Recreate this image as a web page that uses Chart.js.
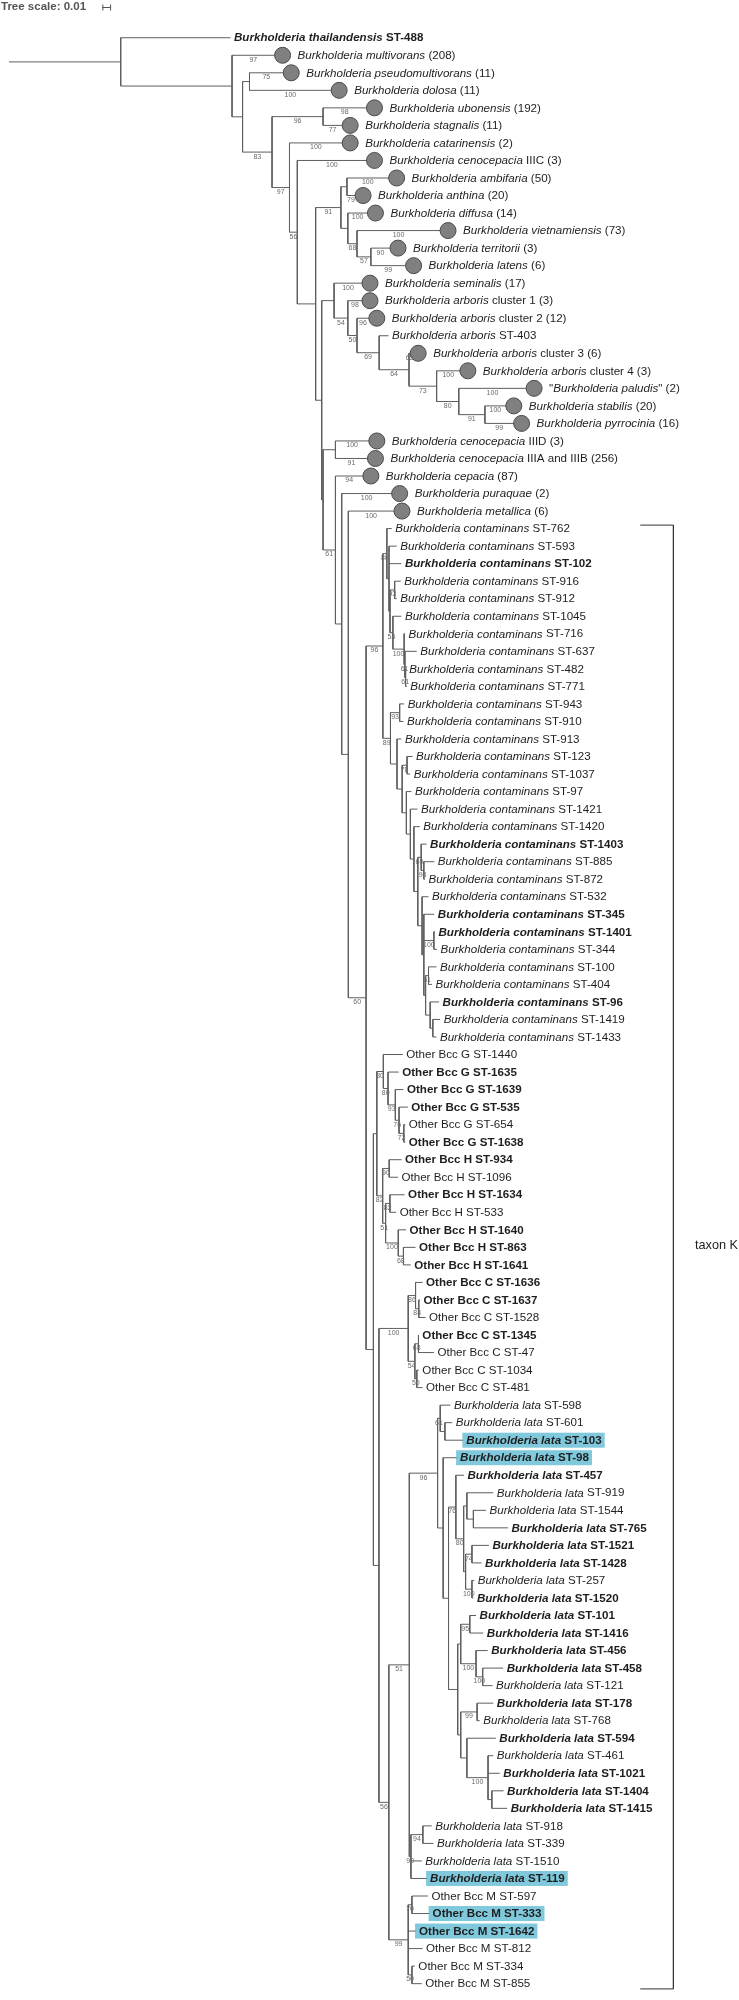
<!DOCTYPE html>
<html>
<head>
<meta charset="utf-8">
<script src="https://cdn.jsdelivr.net/npm/chart.js@4.4.1/dist/chart.umd.min.js"></script>
<style>
  html, body { margin: 0; padding: 0; background: #fff; }
  #wrap { width: 739px; height: 2000px; }
</style>
</head>
<body>
<div id="wrap"><canvas id="tree" width="739" height="2000"></canvas></div>
<script>
// leaf labels, top to bottom
const speciesNames = [
  'Burkholderia thailandensis ST-488', 'Burkholderia multivorans (208)', 'Burkholderia pseudomultivorans (11)',
  'Burkholderia dolosa (11)', 'Burkholderia ubonensis (192)', 'Burkholderia stagnalis (11)',
  'Burkholderia catarinensis (2)', 'Burkholderia cenocepacia IIIC (3)', 'Burkholderia ambifaria (50)',
  'Burkholderia anthina (20)', 'Burkholderia diffusa (14)', 'Burkholderia vietnamiensis (73)',
  'Burkholderia territorii (3)', 'Burkholderia latens (6)', 'Burkholderia seminalis (17)',
  'Burkholderia arboris cluster 1 (3)', 'Burkholderia arboris cluster 2 (12)', 'Burkholderia arboris ST-403',
  'Burkholderia arboris cluster 3 (6)', 'Burkholderia arboris cluster 4 (3)', '"Burkholderia paludis" (2)',
  'Burkholderia stabilis (20)', 'Burkholderia pyrrocinia (16)', 'Burkholderia cenocepacia IIID (3)',
  'Burkholderia cenocepacia IIIA and IIIB (256)', 'Burkholderia cepacia (87)', 'Burkholderia puraquae (2)',
  'Burkholderia metallica (6)'
];
const contaminansST = ['762', '593', '102', '916', '912', '1045', '716', '637', '482', '771', '943', '910', '913',
  '123', '1037', '97', '1421', '1420', '1403', '885', '872', '532', '345', '1401', '344', '100', '404', '96', '1419', '1433'];
const bccG_ST = ['1440', '1635', '1639', '535', '654', '1638'];
const bccH_ST = ['934', '1096', '1634', '533', '1640', '863', '1641'];
const bccC_ST = ['1636', '1637', '1528', '1345', '47', '1034', '481'];
const lataST = ['598', '601', '103', '98', '457', '919', '1544', '765', '1521', '1428', '257', '1520', '101', '1416',
  '456', '458', '121', '178', '768', '594', '461', '1021', '1404', '1415', '918', '339', '1510', '119'];
const bccM_ST = ['597', '333', '1642', '812', '334', '855'];

const leafNames = [
  ...speciesNames,
  ...contaminansST.map(s => 'Burkholderia contaminans ST-' + s),
  ...bccG_ST.map(s => 'Other Bcc G ST-' + s),
  ...bccH_ST.map(s => 'Other Bcc H ST-' + s),
  ...bccC_ST.map(s => 'Other Bcc C ST-' + s),
  ...lataST.map(s => 'Burkholderia lata ST-' + s),
  ...bccM_ST.map(s => 'Other Bcc M ST-' + s)
];

// distance from the left of the tree to each tip
const leafTip = [
  227, 280.4, 289.3, 338.4, 374.6, 349.7, 349.7, 374.6, 397.3, 362.9,
  375.6, 450, 398.7, 414.7, 370, 370, 377, 389, 419.4, 470.3,
  538.2, 517.4, 525.4, 377, 375.6, 370.9, 400.4, 402.8,
  392.3, 397.4, 402.2, 401.5, 397.4, 402.2, 406, 418, 406.7, 407.7,
  405, 404.3, 402.2, 413.6, 411.2, 412.5, 418.7, 421.1, 428, 435.9,
  426.3, 430, 435.9, 436.6, 438.7, 438.1, 433.6, 440.8, 441.9, 438.1,
  403.6, 399.4, 404.3, 408.8, 406.2, 406.2,
  402.4, 398.7, 405.5, 396.8, 407, 416.7, 411.8,
  423.9, 421.2, 426.9, 420.1, 435.5, 420.1, 423.9,
  452.4, 454.3, 465.2, 458.8, 466.3, 496.4, 488.9, 511.4, 491.9, 484.3,
  476.8, 476, 478.7, 486.2, 490.7, 506.5, 495.6, 496.4, 482.5, 499,
  496.4, 503.1, 506.9, 510.6, 433.3, 435.1, 423.1, 428,
  429.5, 430.6, 416.7, 423.9, 416, 423.1
];

// internal node each leaf hangs from
const leafParent = [
  0, 1, 3, 3, 5, 5, 6, 7, 10, 10,
  11, 12, 13, 13, 15, 16, 17, 18, 19, 20,
  21, 22, 22, 24, 24, 25, 26, 27,
  30, 31, 31, 33, 33, 34, 35, 36, 37, 37,
  39, 39, 40, 42, 42, 43, 44, 45, 47, 48,
  48, 49, 50, 51, 51, 53, 53, 54, 55, 55,
  58, 59, 60, 61, 62, 62,
  64, 64, 66, 66, 67, 68, 68,
  71, 72, 72, 74, 74, 75, 75,
  79, 80, 80, 81, 83, 85, 86, 86, 88, 88,
  89, 89, 92, 92, 93, 94, 94, 96, 96, 97,
  98, 98, 99, 99, 101, 101, 100, 100,
  103, 103, 102, 102, 104, 104
];

const leafSupport = [
  null, 97, 75, 100, 98, 77, 100, 100, 100, 79,
  100, 100, 90, 99, 100, 98, 96, null, 65, 100,
  100, 100, 99, 100, 91, 94, 100, 100
];

const collapsedLeaves = [1, 2, 3, 4, 5, 6, 7, 8, 9, 10, 11, 12, 13, 14, 15, 16, 18, 19, 20, 21, 22, 23, 24, 25, 26, 27];
const boldLeaves = [0, 30, 46, 50, 51, 55, 59, 60, 61, 63, 64, 66, 68, 69, 70, 71, 72, 74, 80, 81, 82, 85, 86, 87,
  89, 90, 91, 92, 93, 95, 97, 99, 100, 101, 105, 107, 108];
const highlightedLeaves = [80, 81, 105, 107, 108];

// internal nodes: depth, parent node, bootstrap
const nodeDepth = [
  114.5, 228.6, 239.4, 246.5, 269.6, 321.9, 287.5, 295.5, 314.3, 340.2,
  346.4, 347.3, 356.7, 370.9, 320.5, 333.2, 347.3, 356.7, 379.4, 410,
  438.3, 461, 487.8, 321.9, 334.6, 334.6, 341, 347.8, 366, 383.2,
  387.3, 389.5, 390.5, 395.3, 393.5, 405, 405.8, 406.5, 391, 400.4,
  397.7, 403, 408, 407.3, 411.4, 415, 419, 422.5, 425.2, 423.4,
  425.2, 435.5, 427, 430, 431.7, 434.4, 373.5, 377, 383.7, 388.5,
  396, 399.8, 404.7, 383, 389.7, 386, 390.4, 399, 404.3, 379.2,
  409.2, 416.7, 420, 416, 419.7, 418, 389.3, 410.3, 439.3, 442,
  446.8, 445, 450.5, 458, 466, 469.3, 476, 468, 474.5, 474.5,
  459.9, 463, 472.3, 478.7, 485.5, 463, 479.8, 469.3, 491, 494.9,
  412, 424.2, 409.2, 413, 413
];
const nodeParent = [
  -1, 0, 1, 2, 2, 4, 4, 6, 7, 8,
  9, 9, 11, 12, 8, 14, 15, 16, 17, 18,
  19, 20, 21, 14, 23, 23, 25, 26, 27, 28,
  29, 30, 31, 32, 32, 34, 35, 36, 29, 38,
  38, 40, 41, 41, 43, 44, 45, 46, 47, 46,
  49, 50, 50, 52, 52, 54, 28, 56, 57, 58,
  59, 60, 61, 57, 63, 63, 65, 65, 67, 56,
  69, 70, 71, 70, 73, 73, 69, 76, 77, 78,
  79, 78, 81, 82, 83, 84, 85, 84, 87, 87,
  82, 90, 91, 91, 93, 90, 95, 95, 97, 98,
  77, 100, 76, 102, 102
];
const nodeSupport = [
  null, null, null, null, 83, 96, 97, 56, null, 91,
  null, null, 68, 57, null, null, 54, 50, 69, 64,
  73, 80, 91, null, null, 61, null, null, 60, 96,
  80, null, null, 93, 54, 100, 61, 61, 89, 93,
  null, null, 78, null, null, null, null, 60, 93, null,
  null, 100, null, 61, null, null, null, null, 80, 80,
  93, 76, 72, 82, 90, 51, 82, 100, 68, null,
  100, 86, 84, 54, 68, 50, 56, 51, 96, 61,
  null, null, null, 76, 80, null, null, null, 74, 100,
  null, null, 95, 100, 100, null, 99, null, 100, null,
  90, 94, 99, 70, 50
];

const treeScaleLabel = 'Tree scale: 0.01';
const treeScaleLength = 8.9;
const cladeLabel = 'taxon K';
const cladeFirstLeaf = 28;
const cladeLastLeaf = 111;

// look
const family = '"Liberation Sans", Arial, Helvetica, sans-serif';
const labelSize = 11.6;
const circleRadius = 8;
const rowPx = 17.69;
const firstRowPx = 29;

// children of every node, then row position of every node
const nodeKids = nodeDepth.map(() => []);
leafParent.forEach((p, i) => nodeKids[p].push({ leaf: true, i: i }));
nodeParent.forEach((p, i) => { if (p >= 0) nodeKids[p].push({ leaf: false, i: i }); });

const nodeRow = [];
const nodeSpan = [];
function rowOf(k) { return k.leaf ? k.i : nodeRowCalc(k.i); }
function nodeRowCalc(n) {
  if (nodeRow[n] !== undefined) return nodeRow[n];
  const rows = nodeKids[n].map(rowOf);
  const lo = Math.min(...rows), hi = Math.max(...rows);
  nodeSpan[n] = [lo, hi];
  nodeRow[n] = (lo + hi) / 2;
  return nodeRow[n];
}
nodeDepth.forEach((d, n) => nodeRowCalc(n));

// branch segments, broken by null points
const branchPoints = [];
function seg(x1, y1, x2, y2) {
  branchPoints.push({ x: x1, y: y1 }, { x: x2, y: y2 }, { x: x2, y: null });
}
seg(0, nodeRow[0], nodeDepth[0], nodeRow[0]);
nodeDepth.forEach((d, n) => {
  const p = nodeParent[n];
  if (p >= 0) seg(nodeDepth[p], nodeRow[n], d, nodeRow[n]);
  seg(d, nodeSpan[n][0], d, nodeSpan[n][1]);
});
leafTip.forEach((t, i) => seg(nodeDepth[leafParent[i]], i, t, i));

const circlePoints = collapsedLeaves.map(i => ({ x: leafTip[i], y: i }));

const bracketPoints = [
  { x: 647, y: cladeFirstLeaf - 0.2 }, { x: 681, y: cladeFirstLeaf - 0.2 },
  { x: 681, y: cladeLastLeaf + 0.3 }, { x: 647, y: cladeLastLeaf + 0.3 }
];

function labelParts(name) {
  const m = name.match(/^("?)(Burkholderia \S+?)("?)((?: .*)?)$/);
  if (!m) return [{ t: name, it: false }];
  return [{ t: m[1], it: false }, { t: m[2], it: true }, { t: m[3] + m[4], it: false }];
}
function fontFor(it, bold, size) {
  return (it ? 'italic ' : '') + (bold ? 'bold ' : '') + size + 'px ' + family;
}
function drawLabel(ctx, name, x, y, bold, measureOnly) {
  let cx = x;
  labelParts(name).forEach(p => {
    if (!p.t) return;
    ctx.font = fontFor(p.it, bold, labelSize);
    if (!measureOnly) ctx.fillText(p.t, cx, y);
    cx += ctx.measureText(p.t).width;
  });
  return cx - x;
}
function labelX(xs, i) {
  const tip = xs.getPixelForValue(leafTip[i]);
  return collapsedLeaves.includes(i) ? tip + 15 : tip + 3.5;
}

const treeText = {
  id: 'treeText',
  beforeDatasetsDraw(chart) {
    const ctx = chart.ctx, xs = chart.scales.x, ys = chart.scales.y;
    ctx.save();
    ctx.fillStyle = '#80c9dc';
    highlightedLeaves.forEach(i => {
      const x = labelX(xs, i);
      const w = drawLabel(ctx, leafNames[i], x, 0, boldLeaves.includes(i), true);
      const y = ys.getPixelForValue(i);
      ctx.fillRect(x - 4, y - 7.5, w + 7, 15);
    });
    ctx.restore();
  },
  afterDatasetsDraw(chart) {
    const ctx = chart.ctx, xs = chart.scales.x, ys = chart.scales.y;
    ctx.save();
    ctx.textBaseline = 'middle';
    ctx.textAlign = 'left';
    ctx.fillStyle = '#1e1e1e';
    leafNames.forEach((name, i) => {
      drawLabel(ctx, name, labelX(xs, i), ys.getPixelForValue(i) + 0.5, boldLeaves.includes(i), false);
    });

    // bootstrap values under each branch
    ctx.font = '7px ' + family;
    ctx.fillStyle = '#6a6a6a';
    ctx.textAlign = 'center';
    ctx.textBaseline = 'top';
    nodeSupport.forEach((s, n) => {
      if (s == null) return;
      const a = xs.getPixelForValue(nodeDepth[nodeParent[n]]);
      const b = xs.getPixelForValue(nodeDepth[n]);
      ctx.fillText(String(s), (a + b) / 2, ys.getPixelForValue(nodeRow[n]) + 1);
    });
    leafSupport.forEach((s, i) => {
      if (s == null) return;
      const a = xs.getPixelForValue(nodeDepth[leafParent[i]]);
      let b = xs.getPixelForValue(leafTip[i]);
      if (collapsedLeaves.includes(i)) b -= circleRadius;
      ctx.fillText(String(s), (a + b) / 2, ys.getPixelForValue(i) + 1);
    });

    // tree scale
    ctx.textAlign = 'left';
    ctx.textBaseline = 'middle';
    ctx.font = 'bold 11.5px ' + family;
    ctx.fillStyle = '#555';
    ctx.fillText(treeScaleLabel, 1, 7);
    const x0 = xs.getPixelForValue(95.7), x1 = xs.getPixelForValue(95.7 + treeScaleLength);
    ctx.strokeStyle = '#555';
    ctx.lineWidth = 1;
    ctx.beginPath();
    ctx.moveTo(x0, 7.5); ctx.lineTo(x1, 7.5);
    ctx.moveTo(x0 + 0.5, 4.5); ctx.lineTo(x0 + 0.5, 10.5);
    ctx.moveTo(x1 - 0.5, 4.5); ctx.lineTo(x1 - 0.5, 10.5);
    ctx.stroke();

    // clade label, right next to the bracket
    ctx.font = '12.7px ' + family;
    ctx.fillStyle = '#1e1e1e';
    ctx.textAlign = 'right';
    ctx.fillText(cladeLabel, 738, ys.getPixelForValue(68.9));
    ctx.restore();
  }
};

new Chart(document.getElementById('tree'), {
  type: 'scatter',
  data: {
    datasets: [
      {
        label: 'collapsed clades',
        data: circlePoints,
        pointRadius: circleRadius,
        pointHoverRadius: circleRadius,
        pointBackgroundColor: '#808080',
        pointBorderColor: '#4a4a4a',
        pointBorderWidth: 1,
        order: 1
      },
      {
        label: 'branches',
        data: branchPoints,
        showLine: true,
        spanGaps: false,
        pointRadius: 0,
        pointHoverRadius: 0,
        borderColor: '#5e5e5e',
        borderWidth: 1,
        order: 2
      },
      {
        label: 'bracket',
        data: bracketPoints,
        showLine: true,
        pointRadius: 0,
        pointHoverRadius: 0,
        borderColor: '#333',
        borderWidth: 1,
        order: 3
      }
    ]
  },
  options: {
    responsive: false,
    animation: false,
    events: [],
    layout: { padding: 0 },
    plugins: { legend: { display: false }, tooltip: { enabled: false } },
    scales: {
      x: { type: 'linear', min: 0, max: 739, display: false },
      y: {
        type: 'linear',
        reverse: true,
        min: -firstRowPx / rowPx,
        max: (2000 - firstRowPx) / rowPx,
        display: false
      }
    }
  },
  plugins: [treeText]
});
</script>
</body>
</html>
